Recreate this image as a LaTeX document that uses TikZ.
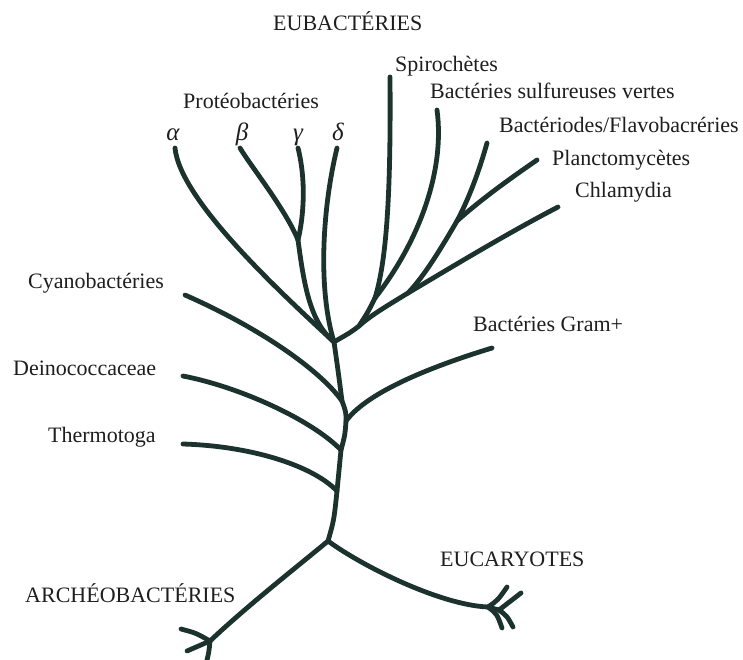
\documentclass[tikz,border=0pt]{standalone}
\usepackage{fontspec}
\setmainfont{Liberation Serif}
\definecolor{branch}{RGB}{28,50,45}
\definecolor{ink}{RGB}{30,30,30}

\begin{document}
\begin{tikzpicture}[x=1pt,y=-1pt,
   br/.style={draw=branch,line width=4.8pt,line cap=round,line join=round},
   lab/.style={font=\fontsize{22}{26}\selectfont,text=ink,inner sep=0pt,anchor=base west},
   grk/.style={font=\fontsize{25}{28}\selectfont\itshape,text=ink,inner sep=0pt,anchor=base}]
  \useasboundingbox (0,0) rectangle (743,659);
  % labels
  \node[lab] (eub) at (273,30) {EUBACTÉRIES};
  \node[lab] (spi) at (395,71) {Spirochètes};
  \node[lab] (sul) at (430,98) {Bactéries sulfureuses vertes};
  \node[lab] (fla) at (499,132) {Bactériodes/Flavobacréries};
  \node[lab] (pla) at (552,165) {Planctomycètes};
  \node[lab] (chl) at (575,197) {Chlamydia};
  \node[lab] (pro) at (183,108) {Protéobactéries};
  \node[grk] (alpha) at (173,140) {α};
  \node[grk] (beta) at (242,140) {β};
  \node[grk] (gamma) at (298,140) {γ};
  \node[grk] (delta) at (338,140) {δ};
  \node[lab] (cya) at (28,288) {Cyanobactéries};
  \node[lab] (dei) at (13,375) {Deinococcaceae};
  \node[lab] (the) at (48,442) {Thermotoga};
  \node[lab] (gra) at (473,331) {Bactéries Gram+};
  \node[lab] (euk) at (440,566) {EUCARYOTES};
  \node[lab] (arc) at (25,602) {ARCHÉOBACTÉRIES};
  % tips
  \coordinate (tA) at (175,148);
  \coordinate (tB) at (240,148);
  \coordinate (tG) at (298,148);
  \coordinate (tD) at (337,148);
  \coordinate (tS) at (390,77);
  \coordinate (tV) at (437,110);
  \coordinate (tF) at (487,143);
  \coordinate (tP) at (537,160);
  \coordinate (tC) at (558,207);
  \coordinate (tCy) at (185,295);
  \coordinate (tDe) at (183,376);
  \coordinate (tTh) at (183,444);
  \coordinate (tGr) at (492,348);
  % forks
  \coordinate (top) at (334,342);
  \coordinate (jbg) at (298,240);
  \coordinate (jss) at (375,298);
  \coordinate (jch) at (359,326);
  \coordinate (jpl) at (457,221);
  \coordinate (jbc) at (408,293);
  \coordinate (jcy) at (342,401);
  \coordinate (jgr) at (346,421);
  \coordinate (jde) at (341,450);
  \coordinate (jth) at (337,491);
  \coordinate (root) at (328,541);
  \coordinate (jar) at (210,641);
  \coordinate (jeu) at (488,607);
  \coordinate (jeu2) at (499,610);
  % trunk
  \draw[br] (top) .. controls (338,370) .. (jcy) .. controls (346,412) .. (jgr)
     .. controls (345,435) .. (jde) .. controls (339,470) .. (jth)
     .. controls (334,520) .. (root);
  % proteobacteria
  \draw[br] (tA) .. controls (180,200) and (280,292) .. (top);
  \draw[br] (tB) .. controls (250,165) and (286,210) .. (jbg);
  \draw[br] (tG) .. controls (306,180) and (304,215) .. (jbg);
  \draw[br] (jbg) .. controls (304,285) and (310,322) .. (top);
  \draw[br] (tD) .. controls (322,210) and (318,290) .. (top);
  % right group
  \draw[br] (tS) .. controls (391,200) and (386,262) .. (jss);
  \draw[br] (tV) .. controls (445,170) and (420,240) .. (jss);
  \draw[br] (jss) .. controls (368,312) .. (jch);
  \draw[br] (tF) .. controls (478,175) and (468,200) .. (jpl);
  \draw[br] (tP) .. controls (505,182) and (478,202) .. (jpl);
  \draw[br] (jpl) .. controls (440,250) and (425,275) .. (jbc);
  \draw[br] (tC) .. controls (510,232) and (460,262) .. (jbc)
     .. controls (385,307) and (370,316) .. (jch)
     .. controls (349,334) and (342,337) .. (top);
  % side branches
  \draw[br] (tCy) .. controls (260,328) and (320,370) .. (jcy);
  \draw[br] (tDe) .. controls (240,387) and (312,420) .. (jde);
  \draw[br] (tTh) .. controls (250,446) and (312,465) .. (jth);
  \draw[br] (tGr) .. controls (420,370) and (365,395) .. (jgr);
  % archaea and eukaryotes
  \draw[br] (root) .. controls (303,562) and (248,605) .. (jar);
  \draw[br] (jar) .. controls (196,633) .. (181,629);
  \draw[br] (jar) .. controls (198,646) .. (187,651);
  \draw[br] (jar) .. controls (209,652) .. (205,668);
  \draw[br] (root) .. controls (362,566) and (440,605) .. (jeu) -- (jeu2);
  \draw[br] (jeu) .. controls (498,600) .. (507,587);
  \draw[br] (jeu2) .. controls (510,602) .. (521,593);
  \draw[br] (jeu) .. controls (497,614) .. (502,628);
  \draw[br] (jeu2) .. controls (507,616) .. (513,627);
\end{tikzpicture}
\end{document}
